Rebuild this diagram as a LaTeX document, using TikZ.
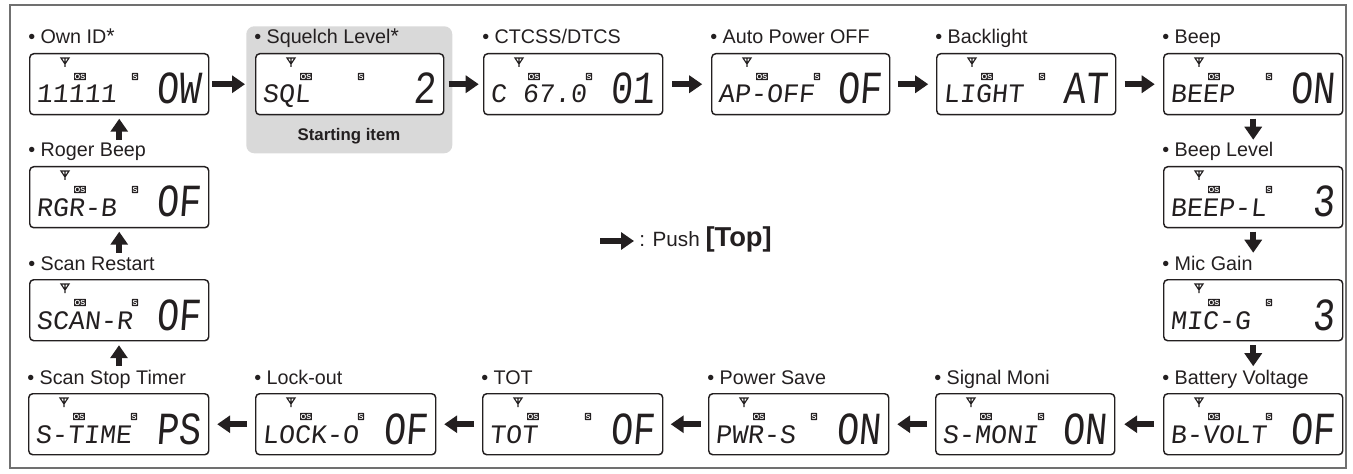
\documentclass[tikz,border=0pt]{standalone}
\usepackage{fontspec}
\setmainfont{Liberation Sans}
\newfontfamily\lcdfont[FakeSlant=0.1]{Liberation Mono}
\usetikzlibrary{arrows.meta,calc}
\definecolor{ink}{HTML}{231F20}
\definecolor{bggray}{HTML}{D9D9D9}
\definecolor{framegray}{HTML}{707070}
\tikzset{
 lcd/.style={draw=ink, line width=1.1pt, rounded corners=3pt, minimum height=45.75pt, inner sep=0pt, fill=white},
 lbl/.style={inner sep=0pt, text=ink, font=\fontsize{14.8pt}{17pt}\selectfont},
 ind/.style={fill=ink, text=white, inner sep=0.5pt, font=\fontsize{5.5pt}{5.5pt}\selectfont\bfseries, minimum height=5.6pt, rounded corners=0.5pt},
 smalltxt/.style={inner sep=0pt, text=ink, text height=13.2pt, text depth=0pt, font=\fontsize{20pt}{20pt}\lcdfont},
 bigtxt/.style={inner sep=0pt, text=ink, text height=22.7pt, text depth=0pt, font=\fontsize{34.5pt}{34.5pt}\lcdfont},
 conn/.style={draw=ink, line width=4.5pt, -{Triangle[length=9.75pt,width=12.75pt]}},
 ant/.style={draw=ink, line width=0.9pt},
 startbg/.style={fill=bggray, rounded corners=6pt, inner sep=0pt, anchor=north west},
}
\newcommand\astk{\raisebox{0.5pt}{\fontsize{16pt}{16pt}\selectfont *}}
% name, x, y, width, label, small text, big text
\newcommand\lcdbox[7]{%
 \node[lcd, minimum width=#4*0.75pt, anchor=north west] (#1) at (#2,#3) {};
 \node[lbl, anchor=base west] (#1-lbl) at (#2-1,#3-9) {\textbullet\ #5};
 \draw[ant] (#2+32,#3+5) -- (#2+40,#3+5) -- (#2+36,#3+11) -- cycle (#2+36,#3+5) -- (#2+36,#3+14);
 \node[ind] (#1-os) at (#2+51,#3+23.5) {OS};
 \node[ind] (#1-si) at (#2+106,#3+23.5) {S};
 \node[smalltxt, anchor=base west] (#1-s) at (#2+7,#3+50) {#6};
 \node[bigtxt, anchor=base east] (#1-b) at (#2+#4-7,#3+51) {\scalebox{0.8}[1]{#7}};
}
\newcommand\harr[2]{\draw[conn] ($(#1.east)!.5!(#2.west)+(-15,0)$) -- ($(#1.east)!.5!(#2.west)+(15,0)$);}
\newcommand\harl[2]{\draw[conn] ($(#2.east)!.5!(#1.west)+(15,0)$) -- ($(#2.east)!.5!(#1.west)+(-15,0)$);}
\newcommand\vard[2]{\draw[conn] ($(#1.south)!.5!(#2.north)+(0,-22)$) -- ($(#1.south)!.5!(#2.north)+(0,-1)$);}
\newcommand\varu[2]{\draw[conn] ($(#1.south)!.5!(#2.north)+(0,-1)$) -- ($(#1.south)!.5!(#2.north)+(0,-22)$);}
\begin{document}
\begin{tikzpicture}[x=0.75pt,y=-0.75pt]
\useasboundingbox (0,0) rectangle (1353,474);
\draw[framegray, line width=1pt] (10,5) rectangle (1346,468);
\node[startbg, minimum width=206*0.75pt, minimum height=127*0.75pt] (bg) at (246,26) {};
\node[inner sep=0pt, text=ink, anchor=base, font=\fontsize{12.6pt}{14pt}\selectfont\bfseries] (start) at (349,141) {Starting item};
\lcdbox{own}{29}{53}{179}{Own ID\astk}{11111}{OW}
\lcdbox{sq}{255}{53}{188}{Squelch Level\astk}{SQL}{2}
\lcdbox{ct}{483}{53}{179}{CTCSS/DTCS}{C 67.0}{01}
\lcdbox{ap}{711}{53}{178}{Auto Power OFF}{AP-OFF}{OF}
\lcdbox{bl}{936}{53}{179}{Backlight}{LIGHT}{AT}
\lcdbox{bp}{1163}{53}{179}{Beep}{BEEP}{ON}
\lcdbox{bpl}{1163}{166}{179}{Beep Level}{BEEP-L}{3}
\lcdbox{mic}{1163}{279}{179}{Mic Gain}{MIC-G}{3}
\lcdbox{bat}{1163}{393}{179}{Battery Voltage}{B-VOLT}{OF}
\lcdbox{sm}{935}{393}{179}{Signal Moni}{S-MONI}{ON}
\lcdbox{ps}{708}{393}{180}{Power Save}{PWR-S}{ON}
\lcdbox{tot}{482}{393}{180}{TOT}{TOT}{OF}
\lcdbox{lo}{255}{393}{180}{Lock-out}{LOCK-O}{OF}
\lcdbox{sst}{28}{393}{180}{Scan Stop Timer}{S-TIME}{PS}
\lcdbox{sr}{29}{279}{179}{Scan Restart}{SCAN-R}{OF}
\lcdbox{rb}{29}{166}{179}{Roger Beep}{RGR-B}{OF}
% connectors
\draw[conn] ($(own.east)+(3,0)$) -- ($(own.east -| bg.west)+(-1,0)$);
\harr{sq}{ct}
\harr{ct}{ap}
\harr{ap}{bl}
\harr{bl}{bp}
\vard{bp}{bpl}
\vard{bpl}{mic}
\vard{mic}{bat}
\harl{bat}{sm}
\harl{sm}{ps}
\harl{ps}{tot}
\harl{tot}{lo}
\harl{lo}{sst}
\varu{sr}{sst}
\varu{rb}{sr}
\varu{own}{rb}
% legend
\coordinate (legA) at (600,241);
\coordinate (legB) at (634,241);
\draw[conn] (legA) -- (legB);
\node[inner sep=0pt, anchor=base west, text=ink, font=\fontsize{15.5pt}{17pt}\selectfont] (legt) at (639,247) {: Push \fontsize{20.5pt}{22pt}\selectfont\bfseries [Top]};
\end{tikzpicture}
\end{document}
